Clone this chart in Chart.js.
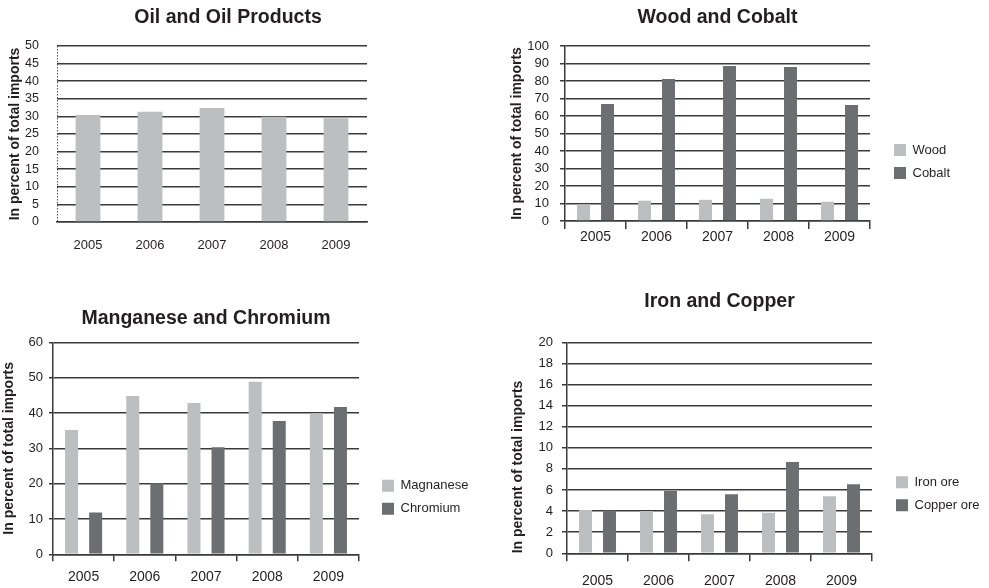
<!DOCTYPE html>
<html>
<head>
<meta charset="utf-8">
<title>Imports by product group, 2005–2009</title>
<script src="https://cdn.jsdelivr.net/npm/chart.js@4.4.1/dist/chart.umd.min.js"></script>
<style>
  html, body { margin: 0; padding: 0; background: #ffffff; overflow: hidden; }
  body { width: 989px; height: 588px; position: relative; }
  canvas { position: absolute; }
</style>
</head>
<body>
<canvas id="oil"  width="456" height="262" style="left:0;top:0"></canvas>
<canvas id="wood" width="499" height="262" style="left:490px;top:0"></canvas>
<canvas id="mn"   width="690" height="298" style="left:-200px;top:290px"></canvas>
<canvas id="iron" width="710" height="308" style="left:290px;top:280px"></canvas>
<script>
// ---- data -------------------------------------------------------------
const years = ['2005', '2006', '2007', '2008', '2009'];

const oilValues       = [30.4, 31.3, 32.4, 29.9, 29.5];
const woodValues      = [9.5, 11.6, 12.1, 12.7, 11.0];
const cobaltValues    = [66.9, 81.2, 88.6, 88.0, 66.3];
const manganeseValues = [35.2, 44.8, 42.8, 48.8, 39.9];
const chromiumValues  = [11.8, 20.1, 30.3, 37.7, 41.7];
const ironValues      = [4.1, 4.0, 3.7, 3.85, 5.4];
const copperValues    = [4.05, 5.9, 5.6, 8.65, 6.55];

// value axis ranges: [max, step]
const oilAxis  = [50, 5];
const woodAxis = [100, 10];
const mnAxis   = [60, 10];
const ironAxis = [20, 2];

const AXIS_TITLE = 'In percent of total imports';

// ---- styling ----------------------------------------------------------
const LIGHT = '#bcbec0';
const DARK  = '#6d6e71';
const INK   = '#231f20';
const GRID  = '#3a3a3a';
const SANS  = "'Liberation Sans', Arial, sans-serif";
const LEGEND_FONT_SIZE = 13;

Chart.defaults.color = INK;
Chart.defaults.font.family = SANS;
Chart.defaults.animation = false;

function valueAxis(o) {
  return {
    type: 'linear',
    position: 'left',
    min: 0, max: o.range[0],
    afterFit: s => { s.width = o.width; },
    ticks: { stepSize: o.range[1], autoSkip: false, padding: o.pad, color: INK, font: o.font },
    grid: { color: GRID, lineWidth: 1.5, drawTicks: o.tick > 0, tickLength: o.tick },
    border: o.border,
    title: {
      display: true, text: AXIS_TITLE, color: INK, align: o.titleAlign || 'center',
      font: { family: SANS, size: 14, weight: 'bold' },
      padding: { top: o.titlePad, bottom: 0 }
    }
  };
}

function categoryAxis(o) {
  return {
    type: 'category',
    afterFit: s => { s.height = o.height; },
    grid: {
      display: o.tick > 0, drawOnChartArea: false, offset: true,
      drawTicks: o.tick > 0, tickLength: o.tick, color: GRID, lineWidth: 1.5
    },
    border: { display: true, color: GRID, width: 1.5 },
    ticks: { padding: o.pad, autoSkip: false, maxRotation: 0, color: INK, font: o.font }
  };
}

// empty spacer between the plot and the legend / canvas edge
function spacerAxis(w) {
  return {
    type: 'linear', position: 'right', display: true,
    afterFit: s => { s.width = w; },
    grid: { display: false }, ticks: { display: false }, border: { display: false }
  };
}

function titleOpts(text, fullSize, top, bottom) {
  return {
    display: true, text, fullSize, color: INK,
    font: { family: SANS, size: 19.5, weight: 'bold' },
    padding: { top, bottom }
  };
}

function legendOpts(titleSpace) {
  return {
    display: true, position: 'right', align: 'center', fullSize: false,
    title: { display: true, text: ' ', font: { size: 12 }, padding: { top: titleSpace - 14.4, bottom: 0 } },
    labels: { boxWidth: 12, boxHeight: 12, padding: 10, color: INK, font: { family: SANS, size: LEGEND_FONT_SIZE } }
  };
}

// right padding that puts the legend's left edge at `legendLeft` (canvas px)
const measureCtx = document.createElement('canvas').getContext('2d');
function legendRightPad(canvasWidth, legendLeft, names) {
  measureCtx.font = LEGEND_FONT_SIZE + 'px ' + SANS;
  const textW = Math.max(...names.map(n => measureCtx.measureText(n).width));
  const legendW = 10 + 12 + LEGEND_FONT_SIZE / 2 + textW + 10;
  return canvasWidth - legendLeft - legendW;
}

function pairDatasets(names, seriesA, seriesB) {
  const common = { categoryPercentage: 0.787, barPercentage: 0.54, borderWidth: 0, yAxisID: 'y' };
  return [
    Object.assign({ label: names[0], data: seriesA, backgroundColor: LIGHT }, common),
    Object.assign({ label: names[1], data: seriesB, backgroundColor: DARK }, common)
  ];
}

// ---- Oil and Oil Products --------------------------------------------
const oilX = categoryAxis({ height: 40, tick: 0, pad: 15.7, font: { family: SANS, size: 13 } });
// only the first category boundary is drawn: the dotted value axis line
oilX.grid = {
  display: true, drawOnChartArea: true, drawTicks: false, offset: true, lineWidth: 1,
  color: c => (c.index === 0 ? '#555555' : 'rgba(0,0,0,0)')
};
oilX.border = { display: true, color: GRID, width: 1.5, dash: [1.5, 1.5] };

new Chart(document.getElementById('oil'), {
  type: 'bar',
  data: {
    labels: years,
    datasets: [{
      label: 'Oil and Oil Products', data: oilValues, backgroundColor: LIGHT,
      borderWidth: 0, categoryPercentage: 0.8, barPercentage: 0.5, yAxisID: 'y'
    }]
  },
  options: {
    responsive: false,
    layout: { padding: 0 },
    plugins: {
      legend: { display: false },
      tooltip: { enabled: false },
      title: titleOpts('Oil and Oil Products', true, 6, 16.6)
    },
    scales: {
      x: oilX,
      y: valueAxis({
        range: oilAxis, width: 57, pad: 18, tick: 0, titlePad: 7,
        font: { family: SANS, size: 12.5 },
        border: { display: false }
      }),
      gap: spacerAxis(89)
    }
  }
});

// ---- Wood and Cobalt --------------------------------------------------
const woodNames = ['Wood', 'Cobalt'];
new Chart(document.getElementById('wood'), {
  type: 'bar',
  data: { labels: years, datasets: pairDatasets(woodNames, woodValues, cobaltValues) },
  options: {
    responsive: false,
    layout: { padding: { left: 0, right: legendRightPad(499, 394, woodNames), top: 0, bottom: 0 } },
    plugins: {
      legend: legendOpts(56),
      tooltip: { enabled: false },
      title: titleOpts('Wood and Cobalt', false, 6, 16.6)
    },
    scales: {
      x: categoryAxis({ height: 41, tick: 8, pad: 0, font: { family: SANS, size: 14 } }),
      y: valueAxis({
        range: woodAxis, width: 75, pad: 11, tick: 5, titlePad: 18.6,
        font: { family: SANS, size: 13 },
        border: { display: true, color: GRID, width: 1.5 }
      }),
      gap: spacerAxis(14)
    }
  }
});

// ---- Manganese and Chromium ------------------------------------------
// canvas starts 200px left of the page edge so the layout leaves the legend its full width
const mnNames = ['Magnanese', 'Chromium'];
new Chart(document.getElementById('mn'), {
  type: 'bar',
  data: { labels: years, datasets: pairDatasets(mnNames, manganeseValues, chromiumValues) },
  options: {
    responsive: false,
    layout: { padding: { left: 0, right: legendRightPad(690, 572, mnNames), top: 0, bottom: 0 } },
    plugins: {
      legend: legendOpts(97.8),
      tooltip: { enabled: false },
      title: titleOpts('Manganese and Chromium', false, 16.8, 12.1)
    },
    scales: {
      x: categoryAxis({ height: 33.7, tick: 7, pad: 7.3, font: { family: SANS, size: 14 } }),
      y: valueAxis({
        range: mnAxis, width: 253, pad: 6, tick: 4, titlePad: 201,
        font: { family: SANS, size: 13 },
        border: { display: true, color: GRID, width: 1.5 }
      }),
      gap: spacerAxis(13)
    }
  }
});

// ---- Iron and Copper --------------------------------------------------
const ironNames = ['Iron ore', 'Copper ore'];
new Chart(document.getElementById('iron'), {
  type: 'bar',
  data: { labels: years, datasets: pairDatasets(ironNames, ironValues, copperValues) },
  options: {
    responsive: false,
    layout: { padding: { left: 0, right: legendRightPad(710, 596, ironNames), top: 0, bottom: 0 } },
    plugins: {
      legend: legendOpts(92),
      tooltip: { enabled: false },
      title: titleOpts('Iron and Copper', false, 9.8, 29.1)
    },
    scales: {
      x: categoryAxis({ height: 34.7, tick: 8, pad: 11.3, font: { family: SANS, size: 14 } }),
      y: valueAxis({
        range: ironAxis, width: 277, pad: 9, tick: 5, titlePad: 220.1, titleAlign: 'start',
        font: { family: SANS, size: 13 },
        border: { display: true, color: GRID, width: 1.5 }
      }),
      gap: spacerAxis(14)
    }
  }
});
</script>
</body>
</html>
